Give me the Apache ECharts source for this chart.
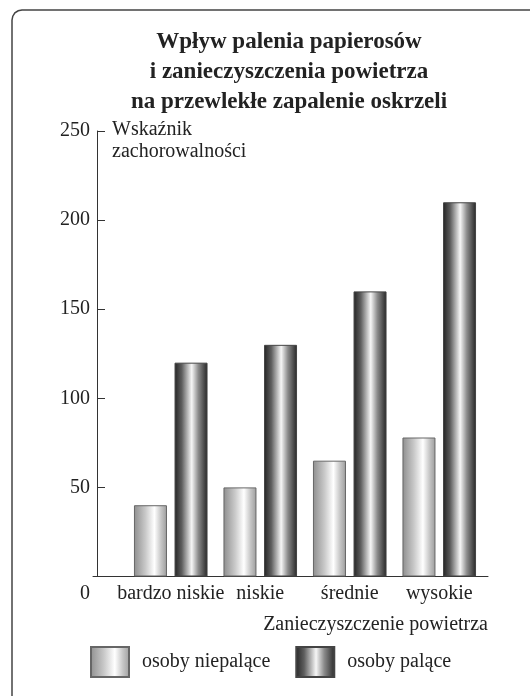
<!DOCTYPE html>
<html>
<head>
<meta charset="utf-8">
<script src="https://cdn.jsdelivr.net/npm/echarts@6/dist/echarts.min.js"></script>
<style>
html,body{margin:0;padding:0;background:#fff;}
#c{width:530px;height:696px;}
</style>
</head>
<body>
<div id="c"></div>
<script>
const categories = ['bardzo niskie', 'niskie', 'średnie', 'wysokie'];
const nonSmokers = [40, 50, 65, 78];
const smokers = [120, 130, 160, 210];
const seriesNames = ['osoby niepalące', 'osoby palące'];
const titleText = 'Wpływ palenia papierosów\ni zanieczyszczenia powietrza\nna przewlekłe zapalenie oskrzeli';
const yName = 'Wskaźnik\nzachorowalności';
const xName = 'Zanieczyszczenie powietrza';

const FONT = '"Liberation Serif", "DejaVu Serif", serif';
const TXT = '#222';

const lightGrad = new echarts.graphic.LinearGradient(0, 0, 1, 0, [
  {offset: 0, color: '#8e8e8e'},
  {offset: 0.35, color: '#c9c9c9'},
  {offset: 0.62, color: '#ffffff'},
  {offset: 0.82, color: '#c6c6c6'},
  {offset: 1, color: '#9c9c9c'}
]);
const darkGrad = new echarts.graphic.LinearGradient(0, 0, 1, 0, [
  {offset: 0, color: '#232323'},
  {offset: 0.22, color: '#5e5e5e'},
  {offset: 0.52, color: '#f6f6f6'},
  {offset: 0.72, color: '#8c8c8c'},
  {offset: 0.9, color: '#4a4a4a'},
  {offset: 1, color: '#262626'}
]);

const chart = echarts.init(document.getElementById('c'), null, {renderer: 'canvas'});
chart.setOption({
  animation: false,
  backgroundColor: '#fff',
  title: {
    text: titleText,
    left: 284,
    top: 22,
    textAlign: 'center',
    textStyle: {fontFamily: FONT, fontSize: 23, fontWeight: 'bold', color: TXT, lineHeight: 30}
  },
  graphic: [{
    type: 'polyline', z: -1, silent: true,
    shape: {points: [[12, 720], [12, 20], [12.8, 16.2], [14.9, 12.9], [18.2, 10.8], [22, 10], [560, 10]]},
    style: {fill: 'none', stroke: '#444', lineWidth: 1.5}
  }],
  legend: {
    left: 85, top: 641,
    icon: 'rect',
    itemWidth: 38, itemHeight: 30, itemGap: 25,
    data: seriesNames,
    textStyle: {fontFamily: FONT, fontSize: 20, color: TXT, padding: [0, 0, 0, 8]}
  },
  grid: [
    {left: 126, right: 46, top: 131, bottom: 119.5},
    {left: 93, right: 42, top: 131, bottom: 119.5}
  ],
  xAxis: [
    {
      type: 'category', gridIndex: 0, data: categories,
      axisLine: {show: false}, axisTick: {show: false},
      axisLabel: {interval: 0, margin: 7, fontFamily: FONT, fontSize: 20, color: TXT}
    },
    {
      type: 'value', gridIndex: 1, min: 0, max: 1,
      axisLine: {show: true, onZero: false, lineStyle: {color: '#333', width: 1}},
      axisTick: {show: false}, axisLabel: {show: false}, splitLine: {show: false},
      name: xName, nameLocation: 'end', nameGap: 0,
      nameTextStyle: {align: 'right', verticalAlign: 'top', padding: [38, 0, 0, 0], fontFamily: FONT, fontSize: 20, color: TXT}
    }
  ],
  yAxis: [
    {
      type: 'value', gridIndex: 0, min: 0, max: 250, interval: 50, offset: 29,
      axisLine: {show: true, lineStyle: {color: '#333', width: 1}},
      axisTick: {show: true, inside: true, length: 8, lineStyle: {color: '#333'}},
      splitLine: {show: false},
      axisLabel: {
        margin: 7, fontFamily: FONT, fontSize: 20, color: TXT,
        formatter: v => v === 0 ? '{z|0}' : String(v),
        rich: {z: {padding: [34, 0, 0, 0], fontFamily: FONT, fontSize: 20, color: TXT}}
      },
      name: yName, nameLocation: 'end', nameGap: 12,
      nameTextStyle: {align: 'left', verticalAlign: 'top', lineHeight: 22, padding: [0, 0, 0, 15], fontFamily: FONT, fontSize: 20, color: TXT}
    },
    {type: 'value', gridIndex: 1, min: 0, max: 1, show: false}
  ],
  series: [
    {
      name: seriesNames[0], type: 'bar', xAxisIndex: 0, yAxisIndex: 0,
      data: nonSmokers, barWidth: 33, barGap: '23%',
      itemStyle: {color: lightGrad, borderColor: '#666', borderWidth: 1}
    },
    {
      name: seriesNames[1], type: 'bar', xAxisIndex: 0, yAxisIndex: 0,
      data: smokers, barWidth: 33, barGap: '23%',
      itemStyle: {color: darkGrad, borderColor: '#444', borderWidth: 1}
    }
  ]
});
</script>
</body>
</html>
